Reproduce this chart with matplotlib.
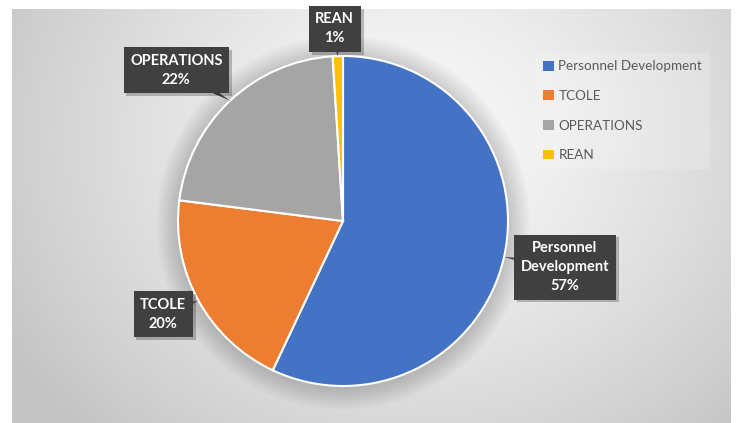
import numpy as np
import matplotlib
matplotlib.use("Agg")
import matplotlib.pyplot as plt
import matplotlib.patheffects as pe
from matplotlib.patches import Patch

# data
categories = ["Personnel Development", "TCOLE", "OPERATIONS", "REAN"]
shares = [57, 20, 22, 1]
label_texts = ["Personnel\nDevelopment\n57%", "TCOLE\n20%", "OPERATIONS\n22%", "REAN\n1%"]
colors = ["#4472C4", "#ED7D31", "#A5A5A5", "#FFC000"]

# label box centres, in pie-radius units relative to the pie centre
label_pos = [(1.345, -0.28), (-1.09, -0.565), (-1.01, 0.915), (-0.05, 1.165)]

W, H = 740, 423
CX, CY, R = 343, 221, 165  # pie centre / radius in pixels

fig = plt.figure(figsize=(W / 100, H / 100), dpi=100)
fig.patch.set_facecolor("white")

# chart area with a radial gradient
bg = fig.add_axes([12 / W, 0, (731 - 12) / W, (H - 9) / H])
yy, xx = np.mgrid[0:414, 0:719]
d = np.hypot(xx - 400, (yy - 130) * 1.15) / 470
d = np.clip(d, 0, 1)
shade = 0.98 - 0.21 * d ** 1.3
bg.imshow(np.dstack([shade] * 3), aspect="auto", interpolation="bilinear")
bg.set_axis_off()

ax = fig.add_axes([0, 0, 1, 1])
ax.set_facecolor("none")

# soft shadow behind the pie
for k in range(12):
    ax.add_patch(plt.Circle((0, -0.01), 1.0 + 0.012 * k, color="black",
                            alpha=0.016, lw=0, zorder=0))

wedges, _ = ax.pie(shares, colors=colors, startangle=90, counterclock=False,
                   radius=1.0, wedgeprops=dict(edgecolor="white", linewidth=1.5),
                   normalize=True)
for w in wedges:
    w.set_zorder(2)

ax.set_xlim(-CX / R, (W - CX) / R)
ax.set_ylim((CY - H) / R, CY / R)
ax.set_axis_off()

# callout labels
for w, txt, (tx, ty) in zip(wedges, label_texts, label_pos):
    mid = np.deg2rad((w.theta1 + w.theta2) / 2)
    tip = (1.0 * np.cos(mid), 1.0 * np.sin(mid))
    ann = ax.annotate(
        txt, xy=tip, xytext=(tx, ty), ha="center", va="center",
        color="white", fontsize=10.5, fontweight="bold", family="Lato",
        linespacing=1.45, zorder=5,
        bbox=dict(boxstyle="square,pad=0.45", fc="#404040", ec="none"),
        arrowprops=dict(arrowstyle="wedge,tail_width=0.9,shrink_factor=0.5",
                        fc="#404040", ec="none", shrinkA=0, shrinkB=0,
                        patchA=None),
    )
    ann.get_bbox_patch().set_path_effects(
        [pe.SimplePatchShadow(offset=(2, -2), alpha=0.25), pe.Normal()])

# legend
handles = [Patch(facecolor=c, edgecolor="none", label=n) for c, n in zip(colors, categories)]
leg = ax.legend(handles=handles, loc="upper left", bbox_to_anchor=(536 / W, 1 - 53 / H),
                frameon=True, fancybox=False, framealpha=0.18, edgecolor="none",
                facecolor="white", labelspacing=1.3, handlelength=0.75,
                handleheight=0.75, handletextpad=0.35, borderpad=0.55,
                borderaxespad=0, prop={"family": "Lato", "size": 9.75})
for t in leg.get_texts():
    t.set_color("#595959")

fig.savefig("out.png", dpi=100, facecolor="white")
